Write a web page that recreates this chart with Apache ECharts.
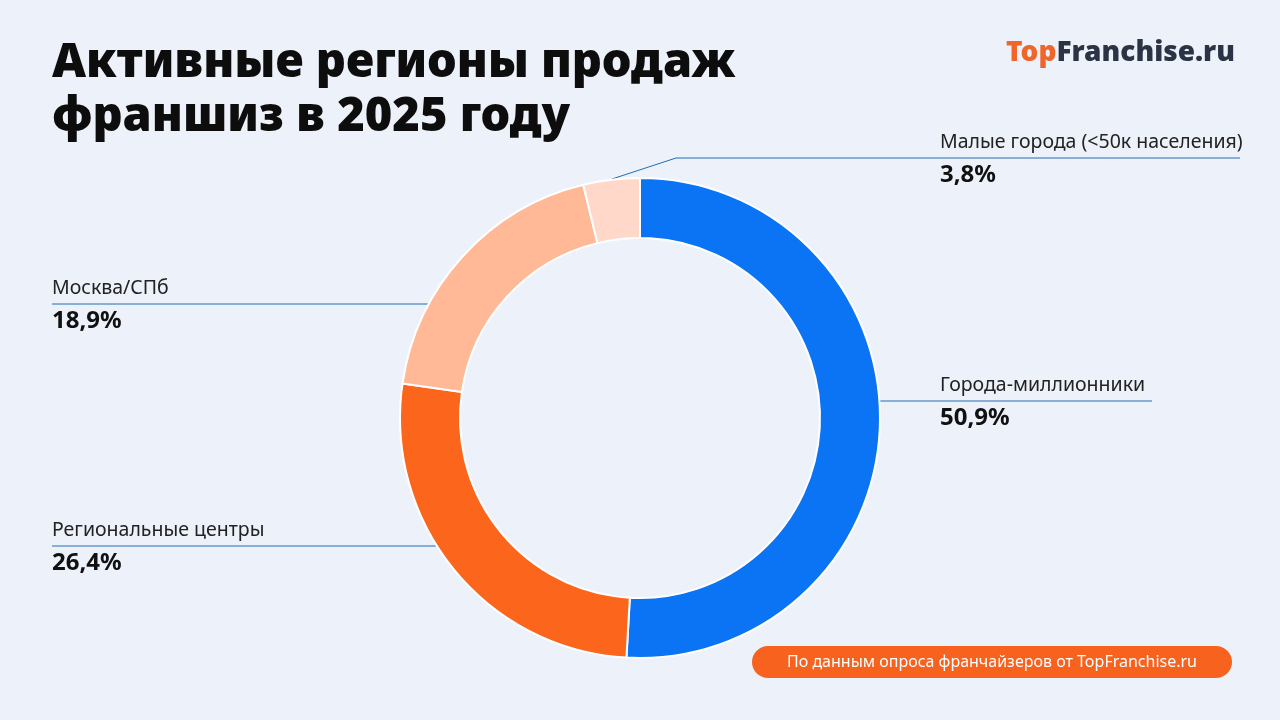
<!DOCTYPE html>
<html><head><meta charset="utf-8">
<script src="https://cdn.jsdelivr.net/npm/echarts@6/dist/echarts.min.js"></script>
<style>html,body{margin:0;background:#edf1f9}#main{width:1280px;height:720px}</style>
</head><body><div id="main"></div>
<script>
// data
var names = ['Города-миллионники', 'Региональные центры', 'Москва/СПб', 'Малые города (<50к населения)'];
var values = [50.9, 26.4, 18.9, 3.8];
var colors = ['#0a74f5', '#fb661c', '#ffb997', '#ffd8ca'];

// label placement per slice: label y, label x, side, line end
var lay = [
  {y: 401, x: 940, side: 'r', end: 1152},
  {y: 546, x: 52, side: 'l', end: 52},
  {y: 304, x: 52, side: 'l', end: 52},
  {y: 158, x: 940, side: 'r', end: 1240}
];
var cx = 640, cy = 418, R = 240;

var chart = echarts.init(document.getElementById('main'));
chart.setOption({
  backgroundColor: '#edf1f9',
  textStyle: {fontFamily: 'Noto Sans'},
  graphic: [
    {type: 'text', left: 52, top: 37, style: {text: 'Активные регионы продаж\nфраншиз в 2025 году', font: '900 47px "Noto Sans"', lineHeight: 54, fill: '#0d0d0d'}},
    {type: 'text', left: 1006, top: 39, style: {rich: {
      a: {fontFamily: 'Noto Sans', fontWeight: 900, fontSize: 28, fill: '#f0652a', color: '#f0652a'},
      b: {fontFamily: 'Noto Sans', fontWeight: 900, fontSize: 28, fill: '#2b3445', color: '#2b3445'}
    }, text: '{a|Top}{b|Franchise.ru}'}},
    {type: 'rect', shape: {x: 752, y: 646, width: 480, height: 32, r: 16}, style: {fill: '#f7621f'}},
    {type: 'text', x: 992, y: 662, style: {text: 'По данным опроса франчайзеров от TopFranchise.ru', font: '16px "Noto Sans"', fill: '#fff', align: 'center', verticalAlign: 'middle'}}
  ],
  series: [{
    type: 'pie',
    center: [cx, cy],
    radius: [180, R],
    startAngle: 90,
    clockwise: true,
    itemStyle: {borderColor: '#fff', borderWidth: 2},
    data: names.map(function (n, i) { return {name: n, value: values[i], itemStyle: {color: colors[i]}}; }),
    label: {
      formatter: function (p) { return '{n|' + p.name + '}\n{v|' + String(p.value).replace('.', ',') + '%}'; },
      rich: {
        n: {fontFamily: 'Noto Sans', fontSize: 19.5, color: '#222', lineHeight: 30},
        v: {fontFamily: 'Noto Sans', fontSize: 24, fontWeight: 'bold', color: '#111', lineHeight: 36}
      }
    },
    labelLine: {show: true, lineStyle: {color: '#1f6fb5', width: 1}},
    labelLayout: function (p) {
      var L = lay[p.dataIndex];
      var pts;
      if (p.dataIndex === 3) {
        pts = [[612, 179], [676, L.y], [L.end, L.y]];
      } else {
        var dx = Math.sqrt(R * R - (L.y - cy) * (L.y - cy));
        var sx = L.side === 'r' ? cx + dx : cx - dx;
        pts = [[sx, L.y], [sx, L.y], [L.end, L.y]];
      }
      return {x: L.x, y: L.y + 2, align: 'left', verticalAlign: 'middle', labelLinePoints: pts};
    }
  }]
});
</script></body></html>
